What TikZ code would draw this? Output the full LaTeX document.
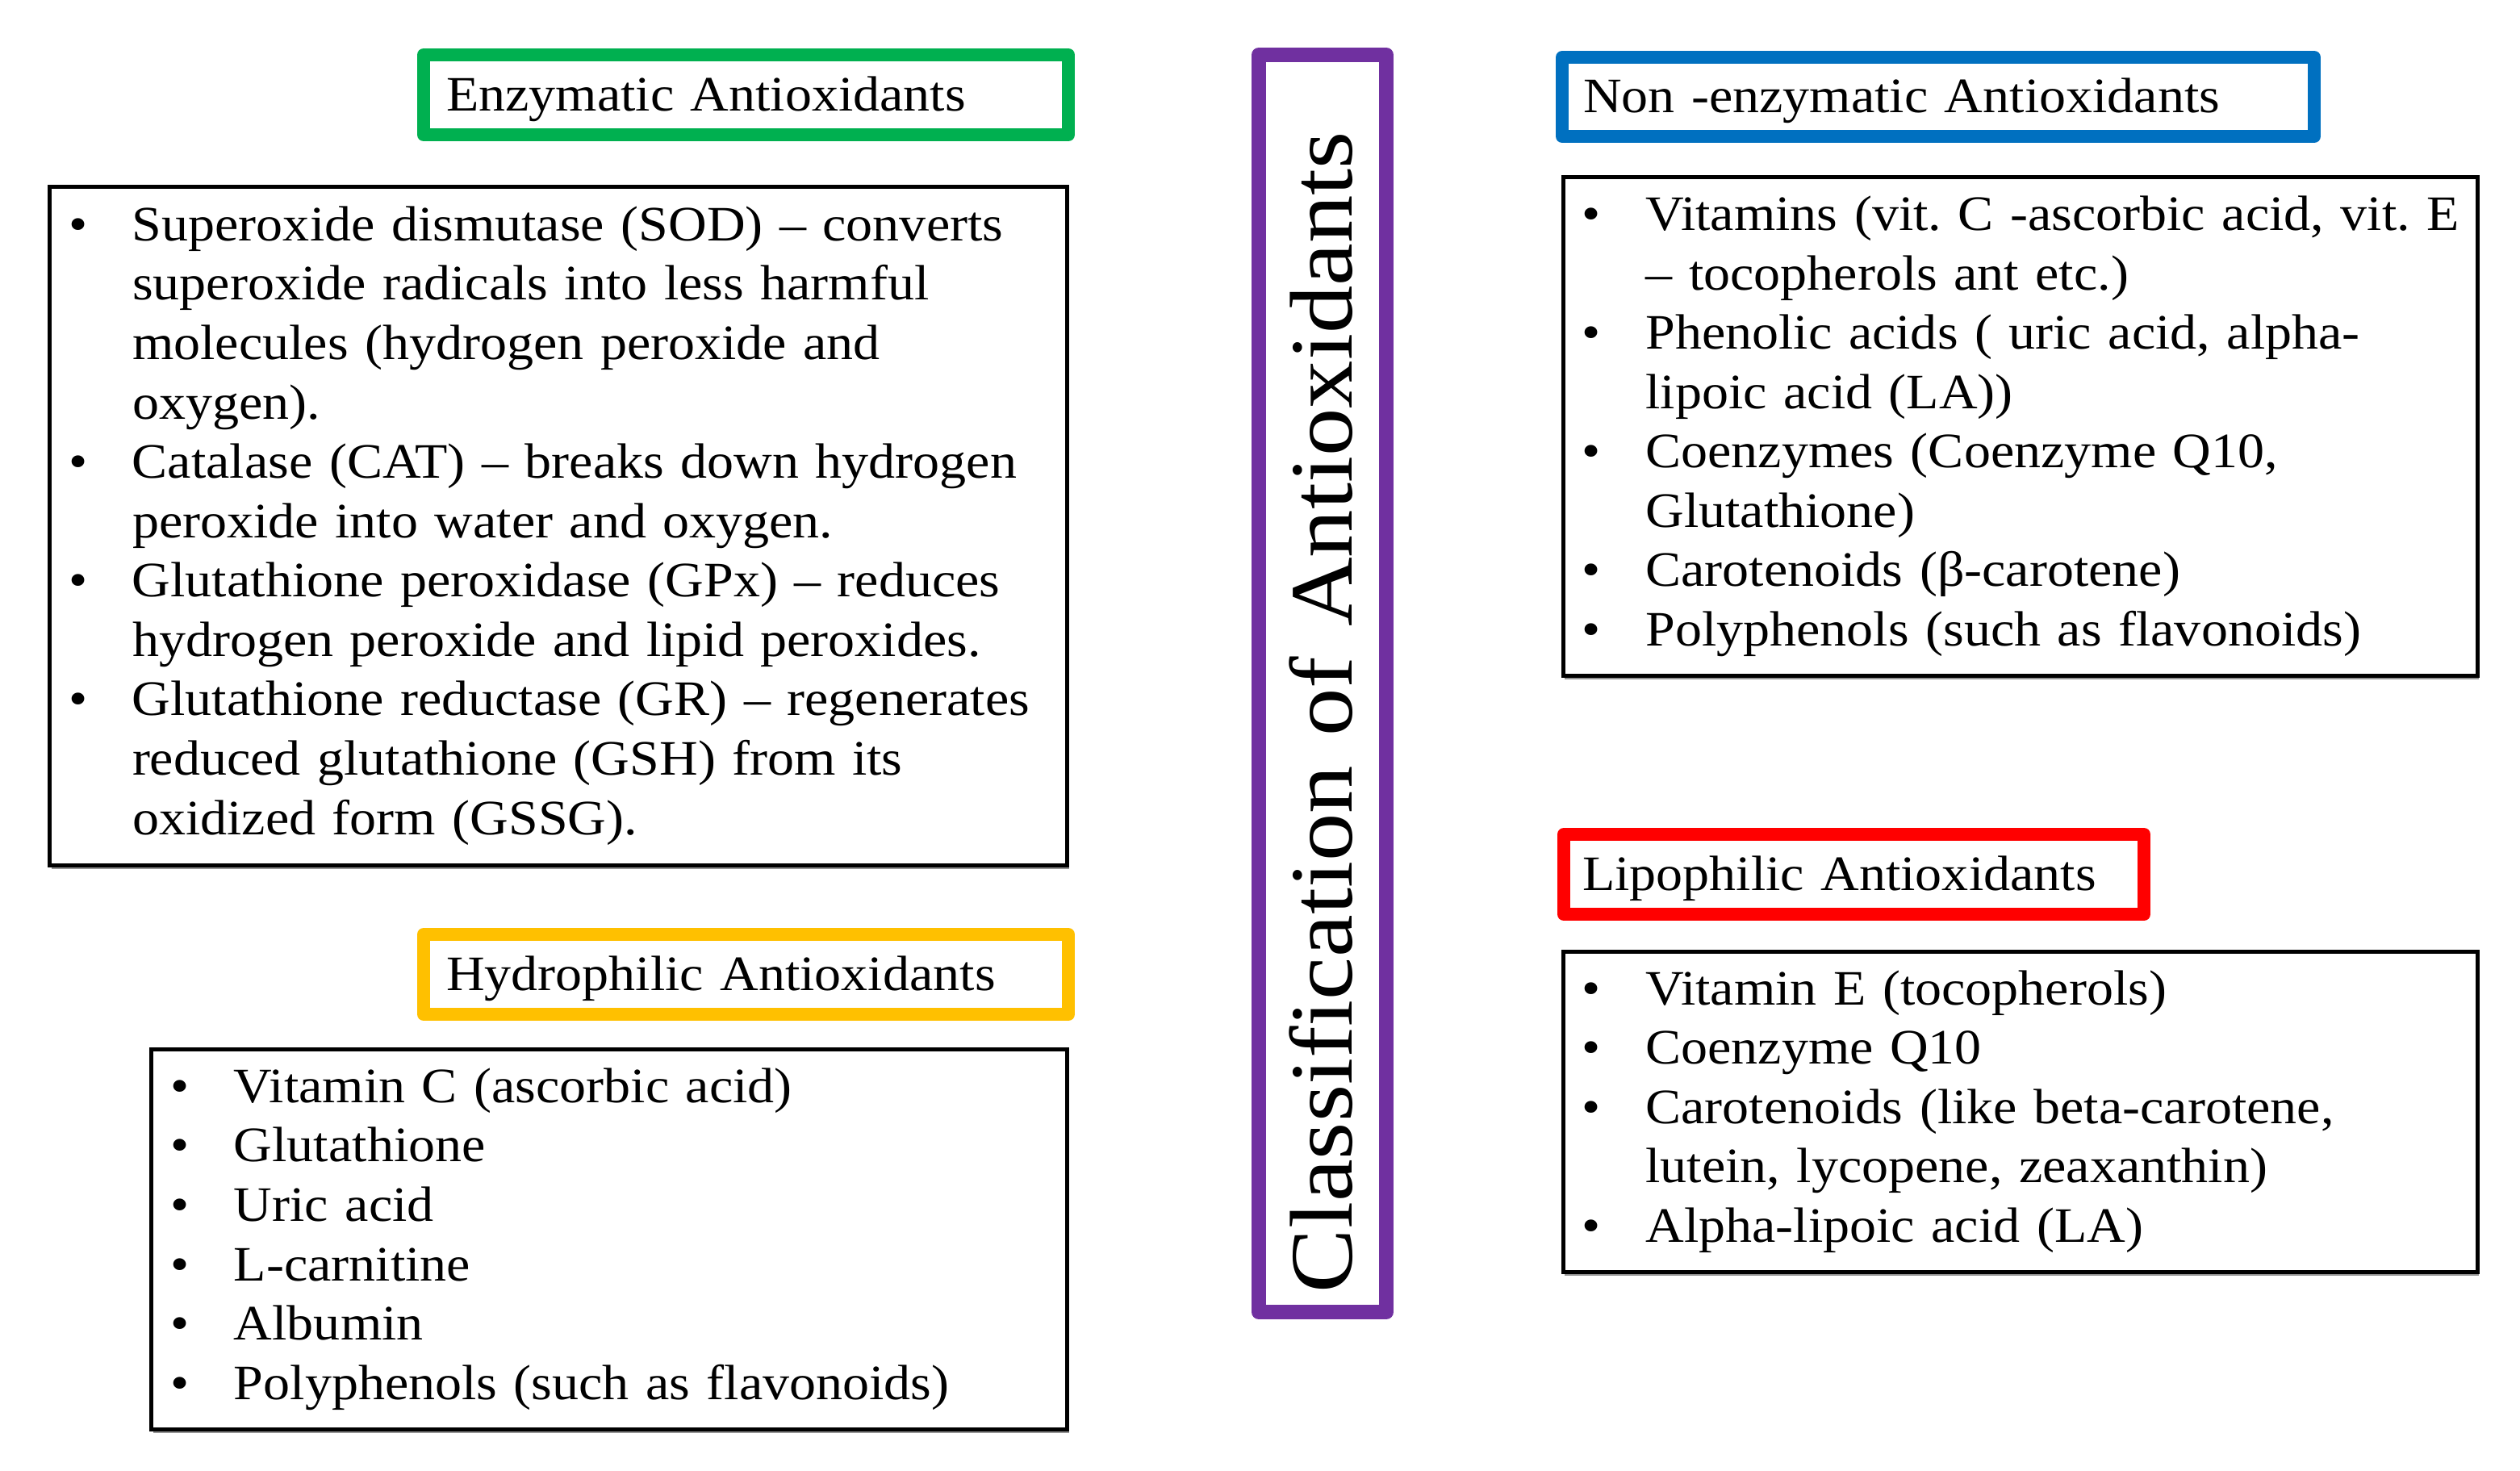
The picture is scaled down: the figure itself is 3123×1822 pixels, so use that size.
\documentclass[tikz,border=0pt]{standalone}
\usepackage{fontspec}
\setmainfont{Liberation Serif}[FakeStretch=1.075]
\frenchspacing
\usetikzlibrary{shadows}
\definecolor{hgreen}{RGB}{0,176,80}
\definecolor{hblue}{RGB}{0,112,192}
\definecolor{hyellow}{RGB}{255,192,0}
\definecolor{hred}{RGB}{255,0,0}
\definecolor{hpurple}{RGB}{112,48,160}
\newcommand\bodyfont{\fontsize{14.74pt}{17.66pt}\selectfont\frenchspacing}
\newcommand\bi[1]{\makebox[12.24pt][c]{•}\hspace*{9.96pt}\mbox{#1}\strut}
\newcommand\ci[1]{\hspace*{22.2pt}\mbox{#1}\strut}
\tikzset{
  hdr/.style={draw=#1, line width=3.84pt, line join=round, fill=white,
    inner ysep=0pt, text height=12.72pt, text depth=3.36pt,
    align=left, font=\bodyfont},
  listbox/.style={draw=black, line width=1.2pt, fill=white,
    inner xsep=2.4pt, inner ysep=0pt, align=left, font=\bodyfont,
    drop shadow={shadow xshift=0.5pt, shadow yshift=-1.3pt, fill=black!60, opacity=0.7}},
  titlebox/.style={draw=hpurple, line width=4.32pt, line join=round, fill=white,
    rotate=90, inner xsep=5.76pt, inner ysep=0pt,
    text height=20.64pt, text depth=3.36pt, align=left,
    font=\fontsize{26.5pt}{30pt}\selectfont}
}
\begin{document}
\begin{tikzpicture}[x=0.24pt, y=-0.24pt]
\useasboundingbox (0,0) rectangle (3123,1822);

% central title
\node[titlebox, minimum width=373.92pt, minimum height=37.92pt, text width=362.4pt]
  (title) at (1639,847) {Classification of Antioxidants};

% headings
\node[hdr=hgreen, minimum width=191.76pt, minimum height=23.76pt,
  text width=178.32pt, inner xsep=6.72pt] (enzh) at (924.5,117.5) {Enzymatic Antioxidants};
\node[hdr=hyellow, minimum width=191.76pt, minimum height=23.76pt,
  text width=178.32pt, inner xsep=6.72pt] (hydh) at (924.5,1207.5) {Hydrophilic Antioxidants};
\node[hdr=hblue, minimum width=223.68pt, minimum height=23.52pt,
  text width=211.2pt, inner xsep=6.24pt] (nonh) at (2402,120) {Non -enzymatic Antioxidants};
\node[hdr=hred, minimum width=172.56pt, minimum height=23.76pt,
  text width=161.52pt, inner xsep=5.52pt] (liph) at (2297.5,1083.5) {Lipophilic Antioxidants};

% lists
\node[listbox, minimum width=302.76pt, minimum height=201.84pt, text width=297.96pt]
  (enzl) at (692.25,651.5) {%
  \bi{Superoxide dismutase (SOD) – converts}\\
  \ci{superoxide radicals into less harmful}\\
  \ci{molecules (hydrogen peroxide and}\\
  \ci{oxygen).}\\
  \bi{Catalase (CAT) – breaks down hydrogen}\\
  \ci{peroxide into water and oxygen.}\\
  \bi{Glutathione peroxidase (GPx) – reduces}\\
  \ci{hydrogen peroxide and lipid peroxides.}\\
  \bi{Glutathione reductase (GR) – regenerates}\\
  \ci{reduced glutathione (GSH) from its}\\
  \ci{oxidized form (GSSG).}};

\node[listbox, minimum width=272.52pt, minimum height=113.04pt, text width=267.72pt]
  (hydl) at (755.25,1535.5) {%
  \bi{Vitamin C (ascorbic acid)}\\
  \bi{Glutathione}\\
  \bi{Uric acid}\\
  \bi{L-carnitine}\\
  \bi{Albumin}\\
  \bi{Polyphenols (such as flavonoids)}};

\node[listbox, minimum width=271.92pt, minimum height=148.2pt, text width=267.12pt]
  (nonl) at (2503.5,528.25) {%
  \bi{Vitamins (vit. C -ascorbic acid, vit. E}\\
  \ci{– tocopherols ant etc.)}\\
  \bi{Phenolic acids ( uric acid, alpha-}\\
  \ci{lipoic acid (LA))}\\
  \bi{Coenzymes (Coenzyme Q10,}\\
  \ci{Glutathione)}\\
  \bi{Carotenoids (β-carotene)}\\
  \bi{Polyphenols (such as flavonoids)}};

\node[listbox, minimum width=271.92pt, minimum height=95.28pt, text width=267.12pt]
  (lipl) at (2503.5,1377.5) {%
  \bi{Vitamin E (tocopherols)}\\
  \bi{Coenzyme Q10}\\
  \bi{Carotenoids (like beta-carotene,}\\
  \ci{lutein, lycopene, zeaxanthin)}\\
  \bi{Alpha-lipoic acid (LA)}};
\end{tikzpicture}
\end{document}
